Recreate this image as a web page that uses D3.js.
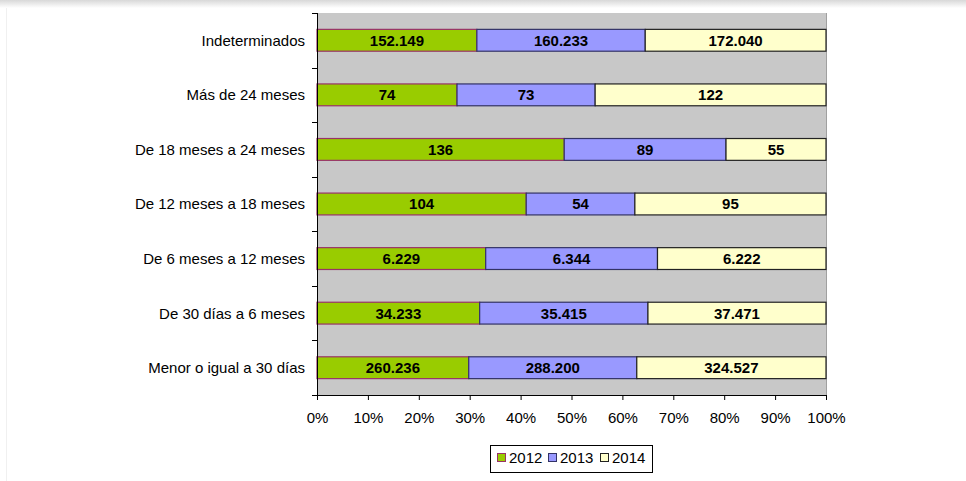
<!DOCTYPE html>
<html><head><meta charset="utf-8">
<script src="https://cdn.jsdelivr.net/npm/d3@7"></script>
<style>body{margin:0;background:#fff;}svg{display:block;}</style>
</head><body>
<script>
const categories = ["Indeterminados","Más de 24 meses","De 18 meses a 24 meses","De 12 meses a 18 meses","De 6 meses a 12 meses","De 30 días a 6 meses","Menor o igual a 30 días"];
const series = ["2012","2013","2014"];
const v2012 = [152149, 74, 136, 104, 6229, 34233, 260236];
const v2013 = [160233, 73, 89, 54, 6344, 35415, 288200];
const v2014 = [172040, 122, 55, 95, 6222, 37471, 324527];
const labels2012 = ["152.149","74","136","104","6.229","34.233","260.236"];
const labels2013 = ["160.233","73","89","54","6.344","35.415","288.200"];
const labels2014 = ["172.040","122","55","95","6.222","37.471","324.527"];
const xTicks = [0,0.1,0.2,0.3,0.4,0.5,0.6,0.7,0.8,0.9,1];
const fills = ["#99cc00","#9999ff","#ffffcc"];
const strokes = ["#993366","#333366","#222222"];

const W=966,H=481;
const FONT="Liberation Sans, Arial, sans-serif";
const FS="15px";
const svg=d3.select("body").append("svg").attr("width",W).attr("height",H);
const defs=svg.append("defs");
const g=defs.append("linearGradient").attr("id","sh").attr("x1",0).attr("y1",0).attr("x2",0).attr("y2",1);
g.append("stop").attr("offset","0").attr("stop-color","#d8d8d8");
g.append("stop").attr("offset","1").attr("stop-color","#ffffff");
svg.append("rect").attr("x",0).attr("y",0).attr("width",W).attr("height",8).attr("fill","url(#sh)");
svg.append("line").attr("x1",6.5).attr("x2",6.5).attr("y1",8).attr("y2",H).attr("stroke","#f0f0f0");

const L=317,R=826,T=13,B=395;
const x=d3.scaleLinear().domain([0,1]).range([L,R]);
const y=d3.scaleBand().domain(categories).range([T,B]).paddingInner(0.6).paddingOuter(0.3);
const yb=d3.scaleBand().domain(categories).range([T,B]);

svg.append("rect").attr("x",L).attr("y",T).attr("width",R-L).attr("height",B-T).attr("fill","#c8c8c8");
svg.append("line").attr("x1",R+0.5).attr("x2",R+0.5).attr("y1",T).attr("y2",B).attr("stroke","#a0a0a0");

const data=categories.map((c,i)=>{
  const vals=[v2012[i],v2013[i],v2014[i]];
  const labs=[labels2012[i],labels2013[i],labels2014[i]];
  const tot=d3.sum(vals);
  let acc=0;
  return vals.map((v,j)=>{const s={cat:c,j,x0:acc/tot,x1:(acc+v)/tot,label:labs[j]};acc+=v;return s;});
}).flat();

const gb=svg.append("g");
gb.selectAll("rect").data(data).join("rect")
  .attr("x",d=>x(d.x0)).attr("width",d=>x(d.x1)-x(d.x0))
  .attr("y",d=>y(d.cat)).attr("height",y.bandwidth())
  .attr("fill",d=>fills[d.j]).attr("stroke",d=>strokes[d.j]).attr("stroke-width",1.2);
gb.selectAll("text").data(data).join("text")
  .attr("x",d=>(x(d.x0)+x(d.x1))/2).attr("y",d=>y(d.cat)+y.bandwidth()/2)
  .attr("dy","0.36em").attr("text-anchor","middle")
  .style("font-family",FONT).style("font-size",FS).style("font-weight","bold")
  .attr("fill","#000").text(d=>d.label);

// y axis
const ya=svg.append("g");
ya.append("line").attr("x1",L+0.5).attr("x2",L+0.5).attr("y1",T).attr("y2",B).attr("stroke","#000");
const bounds=categories.map(c=>yb(c)).concat([B]);
ya.selectAll("line.t").data(bounds).join("line").attr("class","t")
  .attr("x1",L-5).attr("x2",L).attr("y1",d=>Math.round(d)+0.5).attr("y2",d=>Math.round(d)+0.5).attr("stroke","#000");
ya.selectAll("text").data(categories).join("text")
  .attr("x",L-12).attr("y",d=>y(d)+y.bandwidth()/2).attr("dy","0.36em").attr("text-anchor","end")
  .style("font-family",FONT).style("font-size",FS).attr("fill","#000").text(d=>d);

// x axis
const xa=svg.append("g").attr("transform",`translate(0,${B})`)
  .call(d3.axisBottom(x).tickValues(xTicks).tickFormat(d3.format(".0%")).tickSize(5).tickPadding(12));
xa.select(".domain").attr("stroke","#000").attr("d",`M${L},0.5H${R}`);
xa.selectAll(".tick line").attr("stroke","#000");
xa.selectAll("text").style("font-family",FONT).style("font-size",FS).attr("fill","#000");

// legend
const lg=svg.append("g");
lg.append("rect").attr("x",490.5).attr("y",445.5).attr("width",162).attr("height",27).attr("fill","#fff").attr("stroke","#000");
const lx=[497,548,600];
series.forEach((s,i)=>{
  lg.append("rect").attr("x",lx[i]+0.5).attr("y",453.5).attr("width",8).attr("height",8).attr("fill",fills[i]).attr("stroke",strokes[i]);
  lg.append("text").attr("x",lx[i]+12).attr("y",458).attr("dy","0.36em")
    .style("font-family",FONT).style("font-size",FS).attr("fill","#000").text(s);
});
</script>
</body></html>
